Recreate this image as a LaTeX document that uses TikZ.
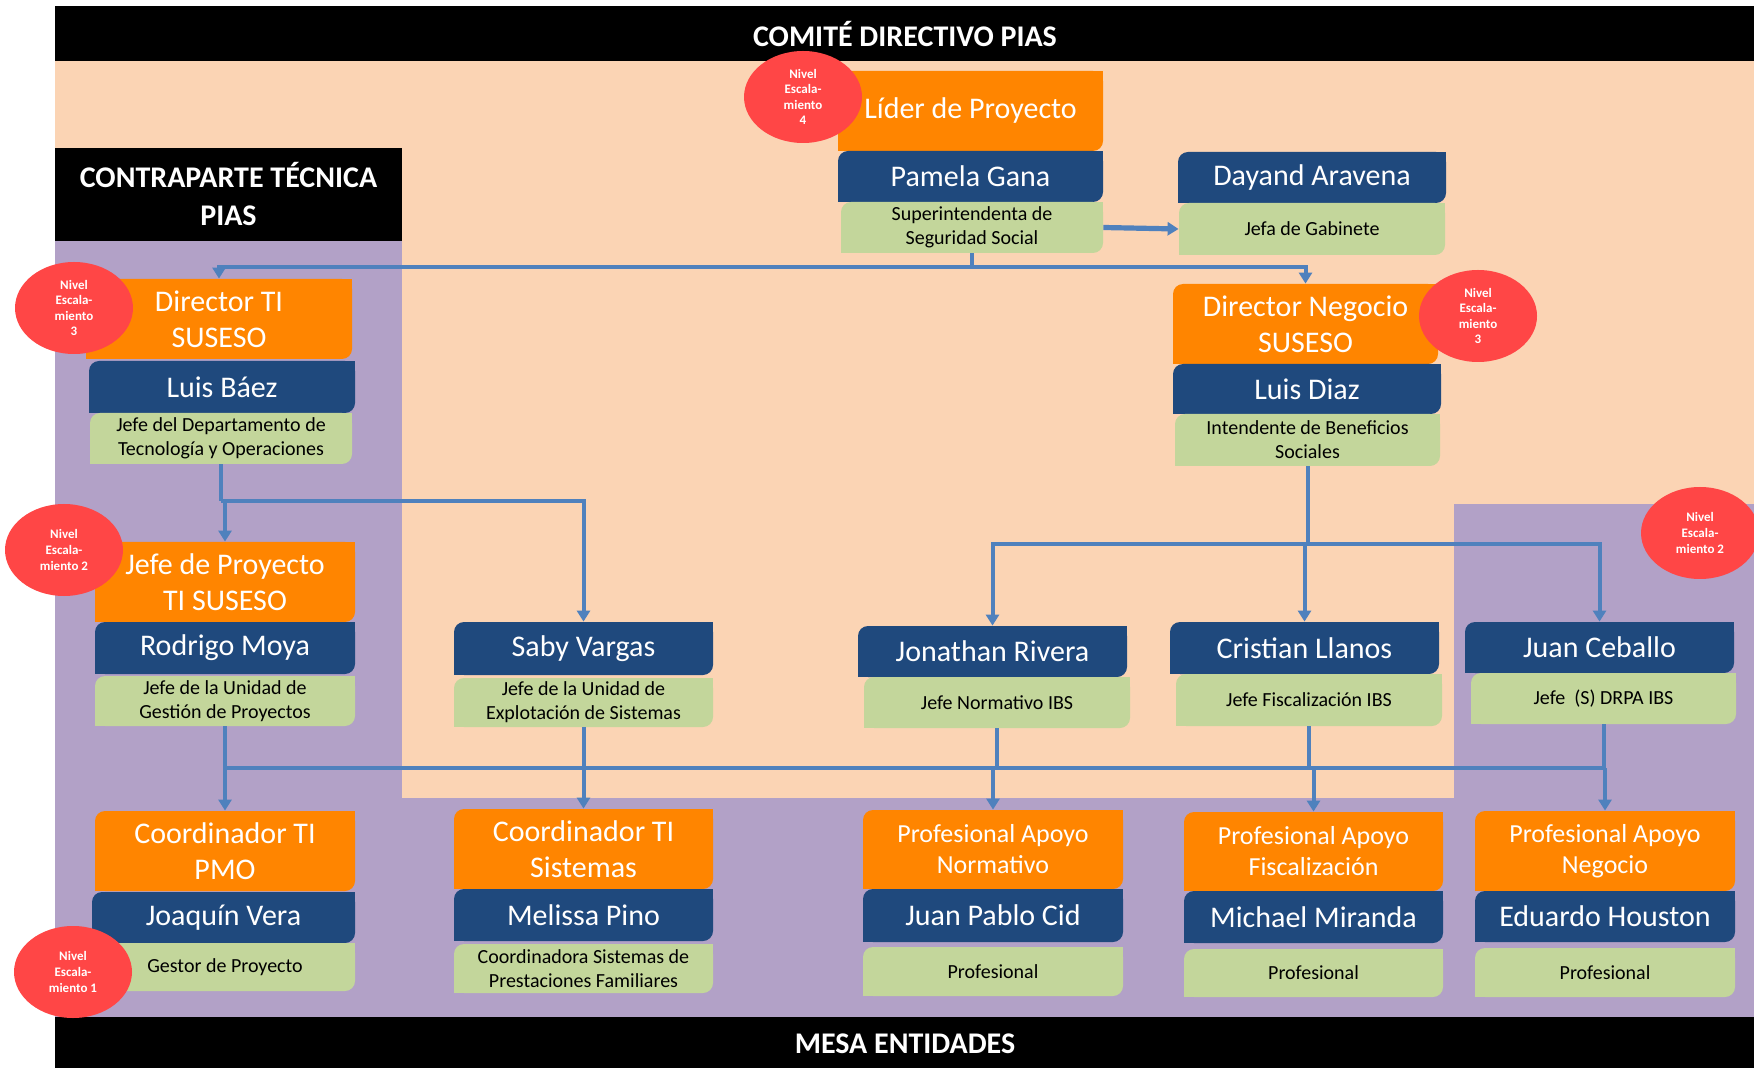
\documentclass[tikz,border=0pt]{standalone}
\usepackage{fontspec}
\setmainfont{Carlito}
\usetikzlibrary{shapes.geometric,arrows.meta}
\definecolor{peach}{HTML}{FBD4B4}
\definecolor{lilac}{HTML}{B2A1C7}
\definecolor{ora}{HTML}{FF8500}
\definecolor{navy}{HTML}{1F497D}
\definecolor{olive}{HTML}{C3D69B}
\definecolor{redc}{HTML}{FF4646}
\definecolor{linkblue}{HTML}{4F81BD}
\tikzset{
 ttl/.style={text=white,font=\fontsize{15}{18}\selectfont,align=center},
 ttlsm/.style={text=white,font=\fontsize{13}{15.5}\selectfont,align=center},
 sub/.style={text=black,font=\fontsize{10}{12}\selectfont,align=center},
 hdr/.style={text=white,font=\bfseries\fontsize{15}{19}\selectfont,align=center},
 lvl/.style={ellipse,fill=redc,inner sep=0pt,minimum width=59pt,minimum height=46pt,text=white,font=\bfseries\fontsize{6.5}{7.8}\selectfont,align=center},
 link/.style={draw=linkblue,line width=2pt},
 arr/.style={-{Triangle[width=6.5pt,length=5.5pt]}},
}
% name, colour, text style, x1, y1, x2, y2, text
\newcommand\rbox[8]{%
  \fill[#2,rounded corners=5pt] (#4,#5) rectangle (#6,#7);
  \fill[#2] ({#6-10},#5) rectangle (#6,{#5+10});
  \fill[#2] (#4,{#7-10}) rectangle ({#4+10},#7);
  \node[#3,inner sep=0pt,minimum width={(#6-#4)*0.5pt},minimum height={(#7-#5)*0.5pt}] (#1) at ({(#4+#6)/2},{(#5+#7)/2}) {#8};
}
\begin{document}
\begin{tikzpicture}[x=0.5pt,y=-0.5pt]
\useasboundingbox (0,0) rectangle (1754,1068);
\clip (0,0) rectangle (1754,1068);
\fill[white] (0,0) rectangle (1754,1068);
% regions
\fill[peach] (55,61) rectangle (1754,798);
\fill[lilac] (55,241) rectangle (402,1017);
\fill[lilac] (1454,504) rectangle (1754,798);
\fill[lilac] (55,798) rectangle (1754,1017);
\fill[black] (55,6) rectangle (1754,61);
\node[hdr] (comite) at (905,34) {COMITÉ DIRECTIVO PIAS};
\fill[black] (55,148) rectangle (402,241);
\node[hdr] (contra) at (228.5,194.5) {CONTRAPARTE TÉCNICA\\PIAS};
\fill[black] (55,1017) rectangle (1754,1068);
\node[hdr] (mesa) at (905,1044) {MESA ENTIDADES};
% top
\rbox{lider}{ora}{ttl}{838}{71}{1103}{151}{Líder de Proyecto}
\rbox{pamela}{navy}{ttl}{838}{151}{1103}{202}{Pamela Gana}
\rbox{pamelaG}{olive}{sub}{841}{202}{1103}{253}{Superintendenta de\\Seguridad Social}
\rbox{dayand}{navy}{ttl}{1178}{152}{1446}{203}{Dayand Aravena}
\rbox{dayandG}{olive}{sub}{1179}{203}{1445}{255}{Jefa de Gabinete}
% left column
\rbox{dirTI}{ora}{ttl}{86}{279}{352}{359}{Director TI\\SUSESO}
\rbox{baez}{navy}{ttl}{89}{361}{355}{413}{Luis Báez}
\rbox{baezG}{olive}{sub}{90}{413}{352}{464}{Jefe del Departamento de\\Tecnología y Operaciones}
\rbox{jefeProy}{ora}{ttl}{95}{542}{355}{622}{Jefe de Proyecto\\TI SUSESO}
\rbox{moya}{navy}{ttl}{95}{622}{355}{674}{Rodrigo Moya}
\rbox{moyaG}{olive}{sub}{95}{676}{355}{726}{Jefe de la Unidad de\\Gestión de Proyectos}
\rbox{coordPMO}{ora}{ttl}{95}{811}{355}{891}{Coordinador TI\\PMO}
\rbox{vera}{navy}{ttl}{92}{892}{355}{943}{Joaquín Vera}
\rbox{veraG}{olive}{sub}{95}{943}{355}{991}{Gestor de Proyecto}
% Saby column
\rbox{saby}{navy}{ttl}{454}{622}{713}{675}{Saby Vargas}
\rbox{sabyG}{olive}{sub}{454}{678}{713}{727}{Jefe de la Unidad de\\Explotación de Sistemas}
\rbox{coordSis}{ora}{ttl}{454}{809}{713}{889}{Coordinador TI\\Sistemas}
\rbox{pino}{navy}{ttl}{454}{889}{713}{941}{Melissa Pino}
\rbox{pinoG}{olive}{sub}{454}{944}{713}{993}{Coordinadora Sistemas de\\Prestaciones Familiares}
% Director Negocio
\rbox{dirNeg}{ora}{ttl}{1173}{284}{1438}{364}{Director Negocio\\SUSESO}
\rbox{diaz}{navy}{ttl}{1173}{364}{1441}{414}{Luis Diaz}
\rbox{diazG}{olive}{sub}{1175}{414}{1440}{466}{Intendente de Beneficios\\Sociales}
% middle row
\rbox{rivera}{navy}{ttl}{858}{626}{1127}{677}{Jonathan Rivera}
\rbox{riveraG}{olive}{sub}{864}{677}{1130}{728}{Jefe Normativo IBS}
\rbox{llanos}{navy}{ttl}{1170}{622}{1439}{674}{Cristian Llanos}
\rbox{llanosG}{olive}{sub}{1176}{674}{1442}{726}{Jefe Fiscalización IBS}
\rbox{ceballo}{navy}{ttl}{1465}{622}{1734}{673}{Juan Ceballo}
\rbox{ceballoG}{olive}{sub}{1471}{673}{1736}{724}{Jefe \ (S) DRPA IBS}
% bottom row
\rbox{paNorm}{ora}{ttlsm}{863}{810}{1123}{889}{Profesional Apoyo\\Normativo}
\rbox{cid}{navy}{ttl}{863}{889}{1123}{942}{Juan Pablo Cid}
\rbox{cidG}{olive}{sub}{863}{947}{1123}{996}{Profesional}
\rbox{paFisc}{ora}{ttlsm}{1184}{812}{1443}{891}{Profesional Apoyo\\Fiscalización}
\rbox{miranda}{navy}{ttl}{1184}{891}{1443}{943}{Michael Miranda}
\rbox{mirandaG}{olive}{sub}{1184}{949}{1443}{997}{Profesional}
\rbox{paNeg}{ora}{ttlsm}{1475}{811}{1735}{891}{Profesional Apoyo\\Negocio}
\rbox{houston}{navy}{ttl}{1475}{891}{1735}{942}{Eduardo Houston}
\rbox{houstonG}{olive}{sub}{1475}{948}{1735}{997}{Profesional}
% connectors
\coordinate (b1) at (0,267);
\coordinate (b2) at (0,501);
\coordinate (b3) at (0,544);
\coordinate (b4) at (0,768);
\draw[link,line width=2.6pt,arr] (pamelaG.east) -- (dayandG.west);
\draw[link] (pamelaG.south) -- (pamelaG.south |- b1);
\draw[link,arr] (pamelaG.south |- b1) -| (dirTI.north);
\draw[link,arr] (pamelaG.south |- b1) -| (dirNeg.north);
\draw[link] (baezG.south) -- (baezG.south |- b2);
\draw[link,arr] (baezG.south |- b2) -| (jefeProy.north);
\draw[link,arr] (baezG.south |- b2) -| (saby.north);
\draw[link] (diazG.south) -- (diazG.south |- b3);
\draw[link,arr] (diazG.south |- b3) -| (rivera.north);
\draw[link,arr] (diazG.south |- b3) -| (llanos.north);
\draw[link,arr] (diazG.south |- b3) -| (ceballo.north);
\foreach \p in {moyaG,sabyG,riveraG,llanosG,ceballoG}
  \draw[link] (\p.south) -- (\p.south |- b4);
\draw[link] (moyaG.south |- b4) -- (paNeg.north |- b4);
\foreach \c in {coordPMO,coordSis,paNorm,paFisc,paNeg}
  \draw[link,arr] (\c.north |- b4) -- (\c.north);
% escalation levels
\node[lvl] (n4) at (803,97) {Nivel\\Escala-\\miento\\4};
\node[lvl] (n3l) at (74,308) {Nivel\\Escala-\\miento\\3};
\node[lvl] (n3r) at (1478,316) {Nivel\\Escala-\\miento\\3};
\node[lvl] (n2l) at (64,550) {Nivel\\Escala-\\miento 2};
\node[lvl] (n2r) at (1700,533) {Nivel\\Escala-\\miento 2};
\node[lvl] (n1) at (73,972) {Nivel\\Escala-\\miento 1};
\end{tikzpicture}
\end{document}
